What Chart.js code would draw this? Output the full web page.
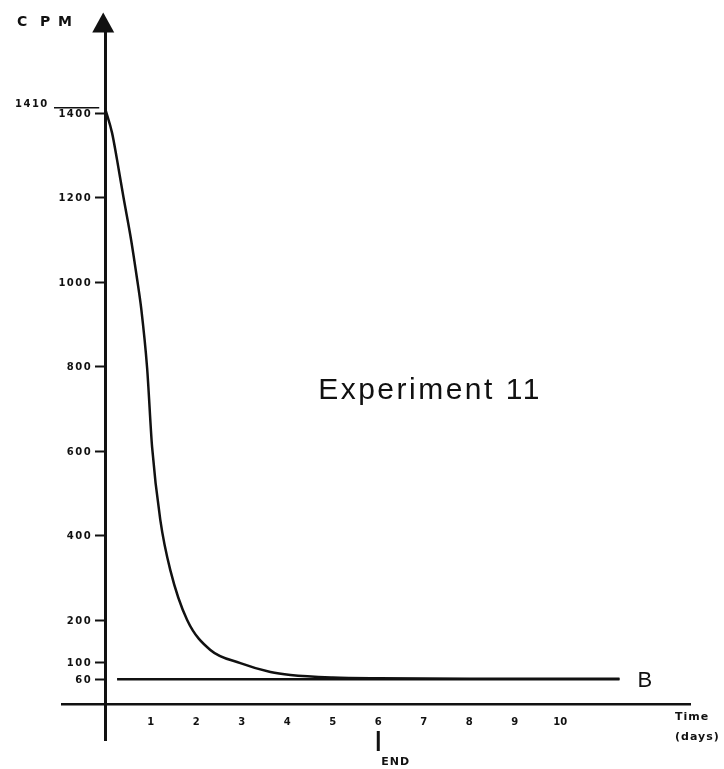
<!DOCTYPE html>
<html>
<head>
<meta charset="utf-8">
<script src="https://cdn.jsdelivr.net/npm/chart.js@4.4.1/dist/chart.umd.min.js"></script>
<style>
html,body{margin:0;padding:0;background:#fff;}
#wrap{width:724px;height:769px;}
</style>
</head>
<body>
<div id="wrap"><canvas id="chart"></canvas></div>
<script>
// values
const days = [0, 0.15, 0.26, 0.4, 0.57, 0.7, 0.79, 0.92, 1.03, 1.21, 1.43, 1.8, 2.31, 2.97, 3.63, 4.07, 5, 6, 8, 10, 11.3];
const cpm = [1410, 1353, 1289, 1201, 1099, 1007, 938, 797, 609, 437, 318, 200, 129, 98, 77, 70, 64, 62, 61, 61, 61];

// background line "B"
const bDays = [0.26, 11.3];
const bCpm = [60, 60];

const yTicks = [60, 100, 200, 400, 600, 800, 1000, 1200, 1400];
const xTicks = [1, 2, 3, 4, 5, 6, 7, 8, 9, 10];
const peak = 1410;
const endDay = 6;

const ink = "#111";

const extras = {
id: "extras",
afterDraw(chart){
const ctx = chart.ctx;
const xs = chart.scales.x;
const ys = chart.scales.y;
const x0 = xs.getPixelForValue(0);
const top = chart.chartArea.top;

ctx.save();
ctx.fillStyle = ink;
ctx.strokeStyle = ink;

// arrow head on the y axis
ctx.beginPath();
ctx.moveTo(x0 - 2, top - 16);
ctx.lineTo(x0 - 13, top + 4);
ctx.lineTo(x0 + 9, top + 4);
ctx.closePath();
ctx.fill();

// CPM
ctx.font = "bold 14px 'DejaVu Sans'";
ctx.textBaseline = "middle";
ctx.textAlign = "left";
[["C", 17], ["P", 40], ["M", 58]].forEach(p=>{
ctx.fillText(p[0], p[1], 22);
});

// y tick labels, left of the tick marks
ctx.font = "bold 10px 'DejaVu Sans'";
ctx.letterSpacing = "1.5px";
ctx.textAlign = "right";
yTicks.forEach(v=>{
ctx.fillText(String(v), x0 - 13, ys.getPixelForValue(v) + 1);
});

// 1410 with its leader line
const yp = ys.getPixelForValue(peak);
ctx.textAlign = "left";
ctx.fillText(String(peak), 15, yp - 4);
ctx.letterSpacing = "0px";
ctx.lineWidth = 1.5;
ctx.beginPath();
ctx.moveTo(54, yp - 1);
ctx.lineTo(x0 - 6, yp - 1);
ctx.stroke();

// title
ctx.font = "30px 'Liberation Sans'";
ctx.letterSpacing = "2.5px";
ctx.textAlign = "center";
ctx.textBaseline = "alphabetic";
ctx.fillText("Experiment 11", 430, 399);
ctx.letterSpacing = "0px";

// B label
ctx.font = "22px 'Liberation Sans'";
ctx.textAlign = "left";
ctx.fillText("B", xs.getPixelForValue(bDays[1]) + 18, ys.getPixelForValue(bCpm[1]) + 8);

// axis title
ctx.font = "bold 11px 'DejaVu Sans'";
ctx.letterSpacing = "1px";
ctx.textBaseline = "middle";
ctx.fillText("Time", 675, 717);
ctx.fillText("(days)", 675, 737);

// END marker
const xe = xs.getPixelForValue(endDay);
ctx.lineWidth = 3;
ctx.beginPath();
ctx.moveTo(xe, 731);
ctx.lineTo(xe, 751);
ctx.stroke();
ctx.font = "bold 11px 'DejaVu Sans'";
ctx.fillText("END", xe + 3, 762);
ctx.letterSpacing = "0px";

ctx.restore();
}
};

new Chart(document.getElementById("chart"),{

type:"line",

data:{
datasets:[{
label:"Experiment 11",
data:days.map((d,i)=>({x:d, y:cpm[i]})),
borderColor:ink,
borderWidth:2.5,
pointRadius:0,
cubicInterpolationMode:"monotone",
fill:false
},{
label:"B",
data:bDays.map((d,i)=>({x:d, y:bCpm[i]})),
borderColor:ink,
borderWidth:2.5,
pointRadius:0,
fill:false
}]
},

options:{
responsive:true,
maintainAspectRatio:false,
animation:false,
layout:{
padding:{left:62, right:34, top:28.5, bottom:29}
},
plugins:{
legend:{display:false},
tooltip:{enabled:false}
},
scales:{
x:{
type:"linear",
min:-0.95,
max:12.85,
position:{y:0},
grid:{display:false, drawTicks:false},
border:{color:ink, width:2.5},
afterBuildTicks:s=>{ s.ticks = xTicks.map(v=>({value:v})); },
ticks:{
color:ink,
padding:12,
autoSkip:false,
maxRotation:0,
font:{family:"DejaVu Sans", size:10, weight:"bold"},
callback:v=>String(v)
}
},
y:{
type:"linear",
min:-84,
max:1600,
position:{x:0},
grid:{display:true, drawOnChartArea:false, drawTicks:true, tickLength:9, tickWidth:2, tickColor:ink},
border:{color:ink, width:3},
afterBuildTicks:s=>{ s.ticks = yTicks.map(v=>({value:v})); },
ticks:{display:false, autoSkip:false}
}
}
},

plugins:[extras]

});
</script>
</body>
</html>
